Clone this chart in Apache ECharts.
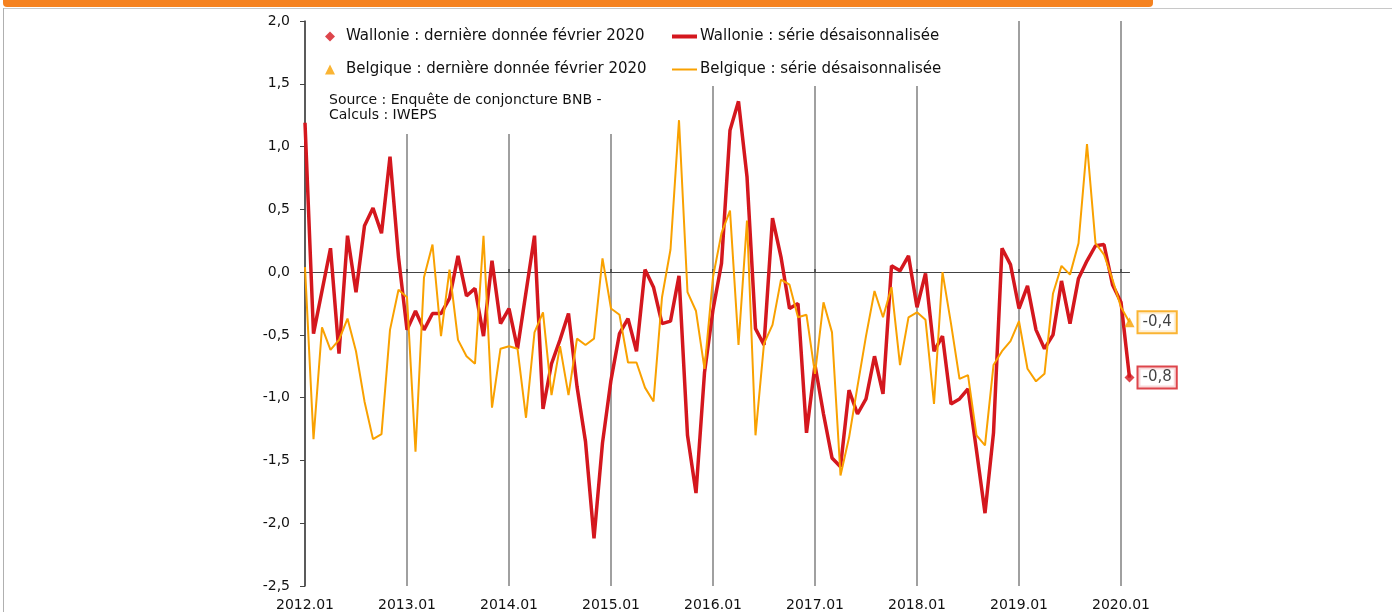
<!DOCTYPE html>
<html>
<head>
<meta charset="utf-8">
<title>Wallonie / Belgique</title>
<script src="https://cdn.jsdelivr.net/npm/echarts@6.0.0/dist/echarts.min.js"></script>
<style>
  html, body { margin: 0; padding: 0; background: #fff; }
  #wrap { position: relative; width: 1392px; height: 612px; overflow: hidden; }
  .bar { position: absolute; left: 3px; top: 0; width: 1150px; height: 7px; background: #f58220; border-radius: 0 0 4px 4px; }
  .hline { position: absolute; left: 3px; top: 8px; width: 1389px; height: 1px; background: #c8c8c8; }
  .vline { position: absolute; left: 3px; top: 8px; width: 1px; height: 604px; background: #b0b0b0; }
  #chart { position: absolute; left: 0; top: 0; width: 1392px; height: 612px; }
</style>
</head>
<body>
<div id="wrap">
  <div class="hline"></div>
  <div class="vline"></div>
  <div class="bar"></div>
  <div id="chart"></div>
</div>
<script>
// mois 2012.01 -> 2020.02
var months = []
for (var y = 2012; y <= 2020; y++) {
  for (var m = 1; m <= 12; m++) {
    if (y === 2020 && m > 2) break
    months.push(y + '.' + (m < 10 ? '0' + m : m))
  }
}

// Wallonie : série désaisonnalisée
var wallonie = [
  1.19, -0.49, -0.15, 0.19, -0.65, 0.29, -0.16, 0.37, 0.51, 0.31, 0.92, 0.12,
  -0.46, -0.31, -0.46, -0.33, -0.33, -0.21, 0.13, -0.19, -0.13, -0.51, 0.09, -0.41,
  -0.29, -0.61, -0.16, 0.29, -1.09, -0.73, -0.54, -0.33, -0.91, -1.35, -2.12, -1.36,
  -0.86, -0.49, -0.37, -0.63, 0.02, -0.12, -0.41, -0.39, -0.03, -1.30, -1.76, -0.80,
  -0.30, 0.07, 1.13, 1.36, 0.76, -0.45, -0.58, 0.43, 0.12, -0.29, -0.25, -1.28,
  -0.74, -1.13, -1.48, -1.55, -0.94, -1.13, -1.01, -0.67, -0.97, 0.05, 0.01, 0.13,
  -0.28, -0.01, -0.63, -0.51, -1.05, -1.01, -0.93, -1.42, -1.92, -1.28, 0.19, 0.06,
  -0.29, -0.11, -0.46, -0.61, -0.50, -0.07, -0.41, -0.05, 0.09, 0.21, 0.22, -0.10,
  -0.24, -0.84
]

// Belgique : série désaisonnalisée
var belgique = [
  0.04, -1.33, -0.44, -0.62, -0.54, -0.37, -0.63, -1.03, -1.33, -1.29, -0.46, -0.14,
  -0.20, -1.43, -0.04, 0.22, -0.51, 0.02, -0.54, -0.67, -0.73, 0.29, -1.08, -0.61,
  -0.59, -0.61, -1.16, -0.48, -0.32, -0.98, -0.59, -0.98, -0.53, -0.58, -0.53, 0.11,
  -0.29, -0.34, -0.72, -0.72, -0.92, -1.03, -0.20, 0.18, 1.21, -0.16, -0.31, -0.77,
  -0.04, 0.31, 0.49, -0.58, 0.41, -1.30, -0.57, -0.42, -0.06, -0.10, -0.36, -0.34,
  -0.81, -0.24, -0.48, -1.62, -1.32, -0.91, -0.51, -0.15, -0.36, -0.12, -0.74, -0.36,
  -0.32, -0.38, -1.05, 0.00, -0.41, -0.85, -0.82, -1.30, -1.38, -0.74, -0.63, -0.55,
  -0.39, -0.77, -0.87, -0.81, -0.17, 0.05, -0.02, 0.23, 1.02, 0.23, 0.14, -0.06,
  -0.28, -0.40
]

var yMin = -2.5, yMax = 2.0, yStep = 0.5

var RED = '#d4171e'
var ORANGE = '#f9a100'
var FONT = 'DejaVu Sans'
var lastIdx = months.length - 1

function fr (v) {
  return v.toFixed(1).replace('.', ',')
}

var chart = echarts.init(document.getElementById('chart'))
chart.setOption({
  animation: false,
  textStyle: { fontFamily: FONT },
  grid: { left: 305, right: 262.5, top: 21, bottom: 26 },
  title: {
    text: 'Source : Enquête de conjoncture BNB -\nCalculs : IWEPS',
    left: 329, top: 93, padding: 0,
    textStyle: { fontFamily: FONT, fontSize: 14, fontWeight: 'normal', color: '#111', lineHeight: 15 }
  },
  graphic: [
    { type: 'rect', z: 1, shape: { x: 307, y: 21, width: 670, height: 65 }, style: { fill: '#fff' } },
    { type: 'rect', z: 1, shape: { x: 307, y: 86, width: 350, height: 48 }, style: { fill: '#fff' } }
  ],
  legend: [
    {
      orient: 'vertical', left: 325, top: 28, itemGap: 16, padding: 0,
      itemWidth: 10, itemHeight: 10,
      textStyle: { fontFamily: FONT, fontSize: 15, color: '#111', lineHeight: 17, padding: [0, 0, 0, 6] },
      data: [
        { name: 'Wallonie : dernière donnée février 2020', icon: 'diamond' },
        { name: 'Belgique : dernière donnée février 2020', icon: 'triangle' }
      ]
    },
    {
      orient: 'vertical', left: 672, top: 28, itemGap: 16, padding: 0,
      itemWidth: 25, itemHeight: 4,
      textStyle: { fontFamily: FONT, fontSize: 15, color: '#111', lineHeight: 17, padding: [0, 0, 0, -2] },
      data: [
        { name: 'Wallonie : série désaisonnalisée', icon: 'path://M0,0H25V4H0Z' },
        { name: 'Belgique : série désaisonnalisée', icon: 'path://M0,0H25V2H0Z' }
      ]
    }
  ],
  xAxis: [
    {
      type: 'category',
      data: months,
      boundaryGap: false,
      position: 'bottom',
      axisLine: { show: false, onZero: false },
      axisTick: { show: false },
      axisLabel: { interval: 11, margin: 12, fontSize: 14, color: '#111', fontFamily: FONT },
      splitLine: { show: true, interval: 11, lineStyle: { color: '#808080', width: 1.5 } }
    },
    {
      type: 'category',
      data: months,
      boundaryGap: false,
      axisLine: { show: true, onZero: true, lineStyle: { color: '#444', width: 1.2 } },
      axisTick: { show: true, interval: 11, length: 3, lineStyle: { color: '#444', width: 1.5 } },
      axisLabel: { show: false },
      splitLine: { show: false }
    }
  ],
  yAxis: {
    type: 'value',
    min: yMin, max: yMax, interval: yStep,
    axisLine: { show: true, lineStyle: { color: '#444', width: 1.5 } },
    axisTick: { show: true, length: 5, lineStyle: { color: '#444' } },
    axisLabel: { margin: 15, fontSize: 14, color: '#111', fontFamily: FONT, formatter: fr },
    splitLine: { show: false }
  },
  series: [
    {
      name: 'Wallonie : dernière donnée février 2020',
      type: 'scatter',
      symbol: 'diamond',
      symbolSize: 10,
      z: 5,
      itemStyle: { color: RED },
      data: [[lastIdx, wallonie[lastIdx]]],
      label: {
        show: true, position: 'right', distance: 4,
        formatter: function (p) { return fr(p.value[1]) },
        fontFamily: FONT, fontSize: 15, color: '#111',
        backgroundColor: '#fff', borderColor: RED, borderWidth: 2,
        padding: [3, 4, 2, 4]
      }
    },
    {
      name: 'Wallonie : série désaisonnalisée',
      type: 'line',
      data: wallonie,
      showSymbol: false,
      symbol: 'none',
      itemStyle: { color: RED },
      lineStyle: { color: RED, width: 3.5 }
    },
    {
      name: 'Belgique : dernière donnée février 2020',
      type: 'scatter',
      symbol: 'triangle',
      symbolSize: 10,
      z: 5,
      itemStyle: { color: ORANGE },
      data: [[lastIdx, belgique[lastIdx]]],
      label: {
        show: true, position: 'right', distance: 4,
        formatter: function (p) { return fr(p.value[1]) },
        fontFamily: FONT, fontSize: 15, color: '#111',
        backgroundColor: '#fff', borderColor: ORANGE, borderWidth: 2,
        padding: [3, 4, 2, 4]
      }
    },
    {
      name: 'Belgique : série désaisonnalisée',
      type: 'line',
      data: belgique,
      showSymbol: false,
      symbol: 'none',
      itemStyle: { color: ORANGE },
      lineStyle: { color: ORANGE, width: 2 }
    }
  ]
})
</script>
</body>
</html>
